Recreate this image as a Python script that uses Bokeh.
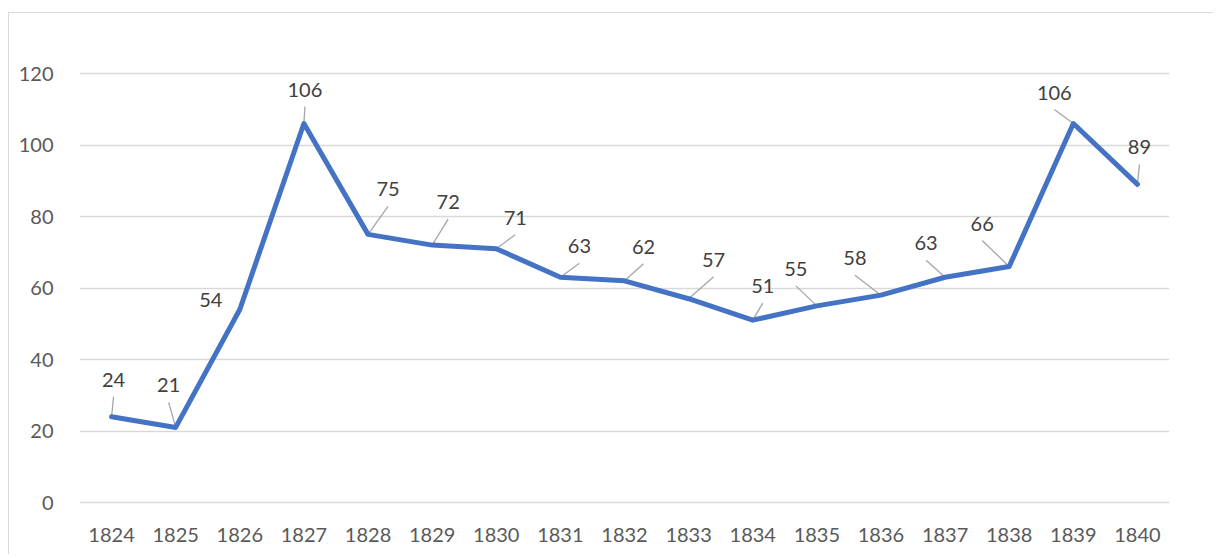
from bokeh.plotting import figure
from bokeh.models import Range1d, FixedTicker, ColumnDataSource
from bokeh.core.properties import value
from bokeh.embed import file_html
from bokeh.resources import INLINE

years = ["1824", "1825", "1826", "1827", "1828", "1829", "1830", "1831", "1832",
         "1833", "1834", "1835", "1836", "1837", "1838", "1839", "1840"]
values = [24, 21, 54, 106, 75, 72, 71, 63, 62, 57, 51, 55, 58, 63, 66, 106, 89]
y_ticks = [0, 20, 40, 60, 80, 100, 120]

# data-label placement (screen pixel offsets of label centre from the point)
label_dx = [2, -7, -29, 1, 20, 16, 19, 19, 19, 25, 10, -21, -26, -19, -27, -19, 2]
label_dy = [-37, -42, -9, -34, -45, -43, -31, -31, -34, -39, -34, -37, -37, -34, -43, -31, -37]

FONT = "Lato"
FW, FH = 1090, 450
n = len(years)
px_x = FW / n
px_y = 3.575
y_lo = -8 / px_y
y_hi = y_lo + FH / px_y

xs = list(range(n))

p = figure(output_backend="svg", toolbar_location=None,
           frame_width=FW, frame_height=FH,
           min_border_left=70, min_border_right=44, min_border_top=47, min_border_bottom=44,
           x_range=Range1d(-0.5, n - 0.5), y_range=Range1d(y_lo, y_hi),
           background_fill_color="white", border_fill_color="white",
           outline_line_color=None, margin=(12, 0, 0, 8))
p.styles = {"border-top": "1px solid #d9d9d9", "border-left": "1px solid #d9d9d9"}

# axes
p.xaxis.ticker = FixedTicker(ticks=xs)
p.xaxis.major_label_overrides = {i: y for i, y in enumerate(years)}
p.yaxis.ticker = FixedTicker(ticks=y_ticks)
for ax in (p.xaxis[0], p.yaxis[0]):
    ax.axis_line_color = None
    ax.major_tick_line_color = None
    ax.minor_tick_line_color = None
    ax.major_label_text_font = FONT
    ax.major_label_text_font_size = "20px"
    ax.major_label_text_color = "#595959"
p.yaxis.major_label_standoff = 20
p.xaxis.major_label_standoff = 11

p.xgrid.grid_line_color = None
p.ygrid.grid_line_color = "#d9d9d9"
p.ygrid.grid_line_width = 1.5
p.ygrid.ticker = FixedTicker(ticks=y_ticks)

# leader lines
x0s, y0s, x1s, y1s = [], [], [], []
for i, v in enumerate(values):
    length = -label_dy[i] - 17
    if length > 5:
        x0s.append(xs[i]); y0s.append(v)
        x1s.append(xs[i] + label_dx[i] / px_x)
        y1s.append(v + length / px_y)
p.segment(x0s, y0s, x1s, y1s, line_color="#a6a6a6", line_width=1.3)

p.line(xs, values, line_color="#4472c4", line_width=5, line_join="round", line_cap="round")

src = ColumnDataSource(dict(x=xs, y=values, t=[str(v) for v in values],
                            dx=label_dx, dy=label_dy))
p.text(x="x", y="y", text="t", x_offset="dx", y_offset="dy", source=src,
       text_font=value(FONT), text_font_size="20px", text_color="#404040",
       text_align="center", text_baseline="middle")

open("out.html", "w").write(file_html(p, INLINE))
